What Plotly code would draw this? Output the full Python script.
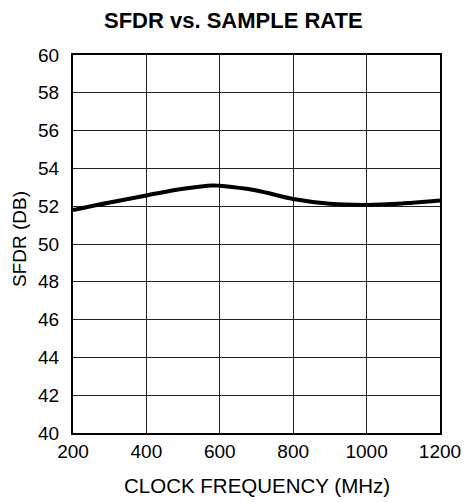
import plotly.graph_objects as go

freq_mhz = [200, 300, 400, 500, 580, 600, 700, 800, 900, 1000, 1100, 1200]
sfdr_db = [51.8, 52.2, 52.57, 52.92, 53.1, 53.08, 52.83, 52.38, 52.13, 52.07, 52.15, 52.3]

x_ticks = [200, 400, 600, 800, 1000, 1200]
y_ticks = [40, 42, 44, 46, 48, 50, 52, 54, 56, 58, 60]

title_text = "SFDR vs. SAMPLE RATE"
x_title = "CLOCK FREQUENCY (MHz)"
y_title = "SFDR (DB)"

FONT = "Liberation Sans, Arial, Helvetica, sans-serif"

fig = go.Figure()
fig.add_trace(go.Scatter(
    x=freq_mhz, y=sfdr_db, mode="lines",
    line=dict(color="black", width=4, shape="spline", smoothing=1.0),
    showlegend=False, hoverinfo="skip",
))

L, R, T, B = 73, 25, 55, 69
W, H = 465, 502
pw, ph = W - L - R, H - T - B

fig.update_layout(
    width=W, height=H,
    margin=dict(l=L, r=R, t=T, b=B, autoexpand=False),
    paper_bgcolor="white", plot_bgcolor="white",
    font=dict(family=FONT, color="black"),
    annotations=[
        dict(text="<b>" + title_text + "</b>", xref="paper", yref="paper",
             x=(233 - L) / pw, y=(H - B - 21) / ph, xanchor="center", yanchor="middle",
             showarrow=False, font=dict(family=FONT, size=22, color="black")),
        dict(text=x_title, xref="paper", yref="paper",
             x=(257 - L) / pw, y=(H - B - 485) / ph, xanchor="center", yanchor="middle",
             showarrow=False, font=dict(family=FONT, size=20.5, color="black")),
        dict(text=y_title, xref="paper", yref="paper", textangle=-90,
             x=(19 - L) / pw, y=(H - B - 239) / ph, xanchor="center", yanchor="middle",
             showarrow=False, font=dict(family=FONT, size=19, color="black")),
    ],
)
fig.update_xaxes(
    range=[200, 1200], tickvals=x_ticks, ticks="", ticklen=0,
    showgrid=True, gridcolor="#222222", gridwidth=1,
    showline=True, linecolor="black", linewidth=2, mirror=True,
    tickfont=dict(family=FONT, size=19, color="black"),
    ticklabelstandoff=0, automargin=False, zeroline=False,
)
fig.update_yaxes(
    range=[40, 60], tickvals=y_ticks, ticks="", ticklen=0,
    showgrid=True, gridcolor="#222222", gridwidth=1,
    showline=True, linecolor="black", linewidth=2, mirror=True,
    tickfont=dict(family=FONT, size=19, color="black"),
    ticklabelstandoff=8, automargin=False, zeroline=False,
)

fig.write_html(
    "out.html",
    config={"displayModeBar": False, "staticPlot": True},
    post_script="document.body.style.margin='0';document.body.style.padding='0';document.body.style.overflow='hidden';",
)
